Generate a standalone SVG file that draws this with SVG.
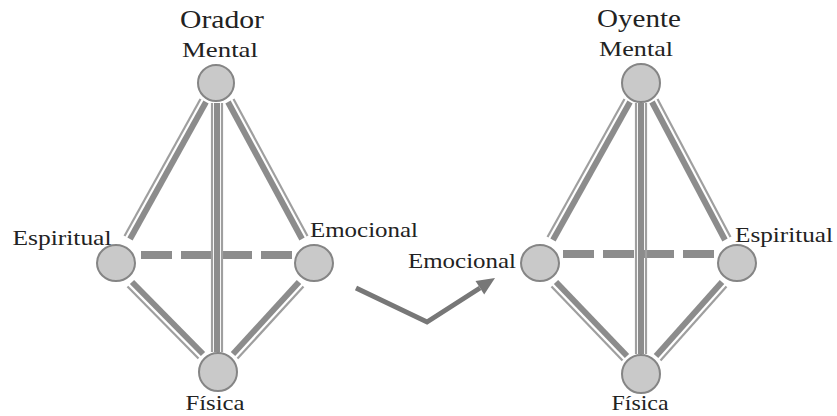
<svg xmlns="http://www.w3.org/2000/svg" width="837" height="416" viewBox="0 0 837 416">
<style>
.lbl{font-family:"Liberation Serif","Times New Roman",serif;font-size:22px;fill:#222;text-anchor:middle}
.ttl{font-family:"Liberation Serif","Times New Roman",serif;font-size:26px;fill:#222;text-anchor:middle}
.node{fill:#c9c9c9;stroke:#858585;stroke-width:2}
.thick{stroke:#8c8c8c;stroke-width:6;fill:none}
.thin{stroke:#9f9f9f;stroke-width:2.2;fill:none}
.dash{stroke:#8c8c8c;stroke-width:8;stroke-dasharray:31 9;fill:none}
.arrow{stroke:#777;stroke-width:5;fill:none;stroke-linejoin:miter}
</style>
<rect width="837" height="416" fill="#fff"/>
<g id="connectors">
  <!-- left diagram -->
  <line class="dash" x1="141" y1="255" x2="292" y2="255"/>
  <line class="thin" x1="212" y1="103" x2="212" y2="352"/>
  <line class="thick" x1="217" y1="103" x2="217" y2="352"/>
  <line class="thin" x1="222" y1="103" x2="222" y2="352"/>
  <line class="thick" x1="206" y1="102" x2="130" y2="239"/>
  <line class="thin" x1="200.5" y1="99" x2="124.5" y2="236"/>
  <line class="thick" x1="228" y1="102" x2="302" y2="239"/>
  <line class="thin" x1="233.5" y1="99" x2="307.5" y2="236"/>
  <line class="thick" x1="132" y1="282" x2="203" y2="354"/>
  <line class="thin" x1="127.5" y1="286.5" x2="198.5" y2="358.5"/>
  <line class="thick" x1="299" y1="282" x2="233" y2="354"/>
  <line class="thin" x1="303.5" y1="286.5" x2="237.5" y2="358.5"/>
  <!-- right diagram -->
  <line class="dash" x1="563" y1="254" x2="714" y2="254"/>
  <line class="thin" x1="636" y1="103" x2="636" y2="354"/>
  <line class="thick" x1="641" y1="103" x2="641" y2="354"/>
  <line class="thin" x1="646" y1="103" x2="646" y2="354"/>
  <line class="thick" x1="630" y1="102" x2="553" y2="240"/>
  <line class="thin" x1="624.5" y1="99" x2="547.5" y2="237"/>
  <line class="thick" x1="652" y1="102" x2="725" y2="240"/>
  <line class="thin" x1="657.5" y1="99" x2="730.5" y2="237"/>
  <line class="thick" x1="556" y1="282" x2="627" y2="356"/>
  <line class="thin" x1="551.5" y1="286.5" x2="622.5" y2="360.5"/>
  <line class="thick" x1="722" y1="282" x2="656" y2="356"/>
  <line class="thin" x1="726.5" y1="286.5" x2="660.5" y2="360.5"/>
  <!-- transfer arrow -->
  <polyline class="arrow" points="356,288 427,322 480,288"/>
  <polygon points="495,278 484.2,294.5 475.5,281.1" fill="#777"/>
</g>
<g id="titles">
  <text class="ttl" x="222" y="28" textLength="84" lengthAdjust="spacingAndGlyphs">Orador</text>
  <text class="ttl" x="639" y="27" textLength="84" lengthAdjust="spacingAndGlyphs">Oyente</text>
</g>
<g id="orador-mental">
  <circle class="node" cx="216" cy="83" r="18"/>
  <text class="lbl" x="220" y="57" textLength="76" lengthAdjust="spacingAndGlyphs">Mental</text>
</g>
<g id="orador-espiritual">
  <ellipse class="node" cx="116" cy="263" rx="19" ry="18"/>
  <text class="lbl" x="62" y="245" textLength="99" lengthAdjust="spacingAndGlyphs">Espiritual</text>
</g>
<g id="orador-emocional">
  <ellipse class="node" cx="314" cy="263" rx="19" ry="18"/>
  <text class="lbl" x="364" y="237" textLength="108" lengthAdjust="spacingAndGlyphs">Emocional</text>
</g>
<g id="orador-fisica">
  <circle class="node" cx="218" cy="372" r="19"/>
  <text class="lbl" x="215" y="410" textLength="59" lengthAdjust="spacingAndGlyphs">Física</text>
</g>
<g id="oyente-mental">
  <circle class="node" cx="641" cy="83" r="19"/>
  <text class="lbl" x="636" y="56" textLength="74" lengthAdjust="spacingAndGlyphs">Mental</text>
</g>
<g id="oyente-emocional">
  <ellipse class="node" cx="540" cy="263" rx="19" ry="18"/>
  <text class="lbl" x="462" y="268" textLength="108" lengthAdjust="spacingAndGlyphs">Emocional</text>
</g>
<g id="oyente-espiritual">
  <ellipse class="node" cx="737" cy="263" rx="19" ry="18"/>
  <text class="lbl" x="784" y="242" textLength="98" lengthAdjust="spacingAndGlyphs">Espiritual</text>
</g>
<g id="oyente-fisica">
  <circle class="node" cx="641" cy="374" r="19"/>
  <text class="lbl" x="640" y="410" textLength="57" lengthAdjust="spacingAndGlyphs">Física</text>
</g>
</svg>
